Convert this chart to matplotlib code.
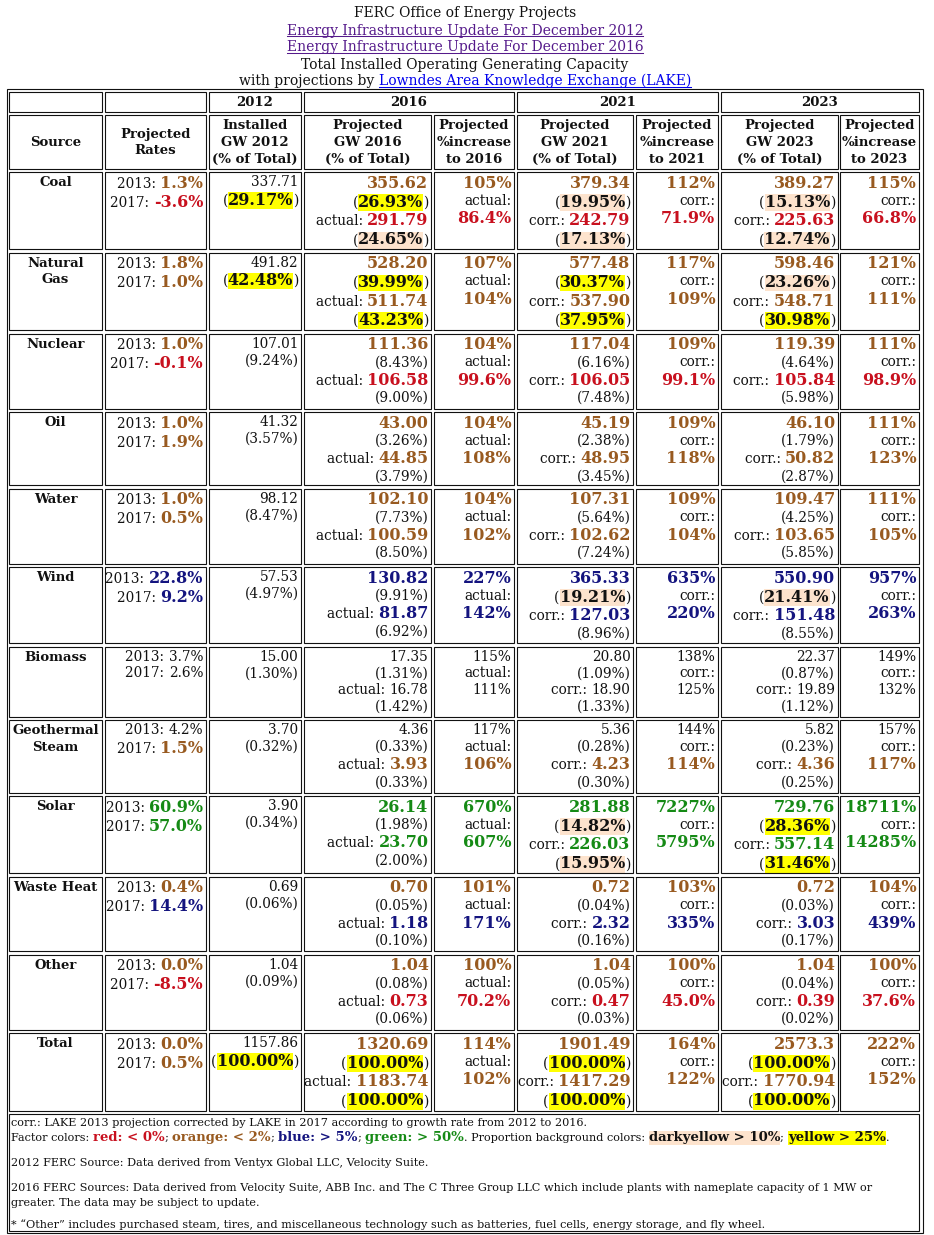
import matplotlib
matplotlib.use("Agg")
import matplotlib.pyplot as plt
from matplotlib.patches import Rectangle
from matplotlib.font_manager import FontProperties

# ---------------- data (read from the FERC / LAKE table) ----------------
sources = ["Coal", "Natural\nGas", "Nuclear", "Oil", "Water", "Wind", "Biomass",
           "Geothermal\nSteam", "Solar", "Waste Heat", "Other", "Total"]

rate_2013 = [1.3, 1.8, 1.0, 1.0, 1.0, 22.8, 3.7, 4.2, 60.9, 0.4, 0.0, 0.0]
rate_2017 = [-3.6, 1.0, -0.1, 1.9, 0.5, 9.2, 2.6, 1.5, 57.0, 14.4, -8.5, 0.5]

gw_2012 = ["337.71", "491.82", "107.01", "41.32", "98.12", "57.53", "15.00",
           "3.70", "3.90", "0.69", "1.04", "1157.86"]
pct_2012 = [29.17, 42.48, 9.24, 3.57, 8.47, 4.97, 1.30, 0.32, 0.34, 0.06, 0.09, 100.00]

proj_2016 = ["355.62", "528.20", "111.36", "43.00", "102.10", "130.82", "17.35",
             "4.36", "26.14", "0.70", "1.04", "1320.69"]
proj_2016_pct = [26.93, 39.99, 8.43, 3.26, 7.73, 9.91, 1.31, 0.33, 1.98, 0.05, 0.08, 100.00]
actual_2016 = ["291.79", "511.74", "106.58", "44.85", "100.59", "81.87", "16.78",
               "3.93", "23.70", "1.18", "0.73", "1183.74"]
actual_2016_pct = [24.65, 43.23, 9.00, 3.79, 8.50, 6.92, 1.42, 0.33, 2.00, 0.10, 0.06, 100.00]
inc_2016 = [105, 107, 104, 104, 104, 227, 115, 117, 670, 101, 100, 114]
actual_inc_2016 = [86.4, 104, 99.6, 108, 102, 142, 111, 106, 607, 171, 70.2, 102]

proj_2021 = ["379.34", "577.48", "117.04", "45.19", "107.31", "365.33", "20.80",
             "5.36", "281.88", "0.72", "1.04", "1901.49"]
proj_2021_pct = [19.95, 30.37, 6.16, 2.38, 5.64, 19.21, 1.09, 0.28, 14.82, 0.04, 0.05, 100.00]
corr_2021 = ["242.79", "537.90", "106.05", "48.95", "102.62", "127.03", "18.90",
             "4.23", "226.03", "2.32", "0.47", "1417.29"]
corr_2021_pct = [17.13, 37.95, 7.48, 3.45, 7.24, 8.96, 1.33, 0.30, 15.95, 0.16, 0.03, 100.00]
inc_2021 = [112, 117, 109, 109, 109, 635, 138, 144, 7227, 103, 100, 164]
corr_inc_2021 = [71.9, 109, 99.1, 118, 104, 220, 125, 114, 5795, 335, 45.0, 122]

proj_2023 = ["389.27", "598.46", "119.39", "46.10", "109.47", "550.90", "22.37",
             "5.82", "729.76", "0.72", "1.04", "2573.3"]
proj_2023_pct = [15.13, 23.26, 4.64, 1.79, 4.25, 21.41, 0.87, 0.23, 28.36, 0.03, 0.04, 100.00]
corr_2023 = ["225.63", "548.71", "105.84", "50.82", "103.65", "151.48", "19.89",
             "4.36", "557.14", "3.03", "0.39", "1770.94"]
corr_2023_pct = [12.74, 30.98, 5.98, 2.87, 5.85, 8.55, 1.12, 0.25, 31.46, 0.17, 0.02, 100.00]
inc_2023 = [115, 121, 111, 111, 111, 957, 149, 157, 18711, 104, 100, 222]
corr_inc_2023 = [66.8, 111, 98.9, 123, 105, 263, 132, 117, 14285, 439, 37.6, 152]

years = ["2012", "2016", "2021", "2023"]
col_headers = ["Source", "Projected\nRates", "Installed\nGW 2012\n(% of Total)",
               "Projected\nGW 2016\n(% of Total)", "Projected\n%increase\nto 2016",
               "Projected\nGW 2021\n(% of Total)", "Projected\n%increase\nto 2021",
               "Projected\nGW 2023\n(% of Total)", "Projected\n%increase\nto 2023"]

title_lines = ["FERC Office of Energy Projects",
               "Energy Infrastructure Update For December 2012",
               "Energy Infrastructure Update For December 2016",
               "Total Installed Operating Generating Capacity"]
title_by = "with projections by "
title_link = "Lowndes Area Knowledge Exchange (LAKE)"

note_corr = "corr.: LAKE 2013 projection corrected by LAKE in 2017 according to growth rate from 2012 to 2016."
note_2012 = "2012 FERC Source: Data derived from Ventyx Global LLC, Velocity Suite."
note_2016 = ["2016 FERC Sources: Data derived from Velocity Suite, ABB Inc. and The C Three Group LLC which include plants with nameplate capacity of 1 MW or",
             "greater. The data may be subject to update."]
note_other = "* \u201cOther\u201d includes purchased steam, tires, and miscellaneous technology such as batteries, fuel cells, energy storage, and fly wheel."

# ---------------- style ----------------
BLACK = "#111111"
RED = "#c8101e"
ORANGE = "#985a20"
BLUE = "#14147f"
GREEN = "#158a15"
PEACH = "#fde3cd"
YELLOW = "#ffff00"
PURPLE = "#551a8b"
LINK = "#0000ee"
FAMILY = "DejaVu Serif"

PT = 0.72          # px -> pt at dpi 100
SMALL = 13.6
HEAD = 13.2
BIG = 16.0
FOOT = 11.2
FOOTB = 13.3
TITLE = 13.9

W, H = 934, 1235
fig = plt.figure(figsize=(W / 100, H / 100), dpi=100)
ax = fig.add_axes([0, 0, 1, 1])
ax.set_xlim(0, W)
ax.set_ylim(H, 0)
ax.axis("off")
rend = fig.canvas.get_renderer()

_cache = {}


def adv(s, size, bold):
    # advance width in px (keeps trailing spaces)
    key = (s, size, bold)
    if key not in _cache:
        fp = FontProperties(family=FAMILY, size=size * PT, weight="bold" if bold else "normal")
        w1 = rend.get_text_width_height_descent("|" + s + "|", fp, ismath=False)[0]
        w0 = rend.get_text_width_height_descent("||", fp, ismath=False)[0]
        _cache[key] = w1 - w0
    return _cache[key]


def R(text, size=SMALL, bold=False, color=BLACK, bg=None, ul=False):
    return (text, size, bold, color, bg, ul)


def draw_line(runs, x, y, align="left"):
    total = sum(adv(r[0], r[1], r[2]) for r in runs)
    if align == "right":
        x -= total
    elif align == "center":
        x -= total / 2
    for text, size, bold, color, bg, ul in runs:
        w = adv(text, size, bold)
        if bg:
            ax.add_patch(Rectangle((x, y - 0.78 * size), w, 1.05 * size,
                                   facecolor=bg, edgecolor="none", zorder=1))
        ax.text(x, y, text, fontsize=size * PT, fontweight="bold" if bold else "normal",
                color=color, family=FAMILY, ha="left", va="baseline", zorder=3)
        if ul:
            ax.plot([x, x + w], [y + 1.8, y + 1.8], color=color, lw=0.75, zorder=3)
        x += w


def metrics(line):
    if any(r[1] == BIG for r in line):
        return 14.3, 4.5
    return 12.6, 4.2


# table geometry (px)
col_left = [9, 105, 209, 304.3, 434.3, 517, 636.3, 721, 840.3]
col_right = [102, 205.7, 301, 431, 513.7, 633, 717.7, 837.7, 918.7]
row_top = [92, 115, 172, 252.5, 333.5, 412, 488.5, 567, 646.5, 720, 796, 876.5, 954.5, 1033, 1114]
row_bot = [t - 3.3 for t in row_top[1:]] + [1230.7]


def box(x0, x1, y0, y1):
    ax.add_patch(Rectangle((x0, y0), x1 - x0, y1 - y0, facecolor="none",
                           edgecolor=BLACK, lw=0.8, zorder=2))


def draw_cell(lines, x0, x1, y0, y1, align="right", valign="top"):
    box(x0, x1, y0, y1)
    if align == "right":
        x = x1 - 2.5
    elif align == "center":
        x = (x0 + x1) / 2
    else:
        x = x0 + 2.5
    if valign == "top":
        y = y0 + 1.5
    else:
        tot = sum(sum(metrics(l)) for l in lines)
        y = (y0 + y1) / 2 - tot / 2
    for line in lines:
        a, d = metrics(line)
        y += a
        draw_line(line, x, y, align)
        y += d


def rate_color(r):
    if r < 0:
        return RED
    if r < 2:
        return ORANGE
    if r > 50:
        return GREEN
    if r > 5:
        return BLUE
    return None


def rated(text, r):
    c = rate_color(r)
    if c is None:
        return R(text)
    return R(text, BIG, True, c)


def share(p):
    s = f"{p:.2f}%"
    if p > 25:
        return [R("("), R(s, BIG, True, BLACK, YELLOW), R(")")]
    if p > 10:
        return [R("("), R(s, BIG, True, BLACK, PEACH), R(")")]
    return [R(f"({s})")]


def incfmt(v):
    return f"{v:.1f}%" if v < 100 else f"{v:.0f}%"


# ---------------- title ----------------
cx = 465
for i, t in enumerate(title_lines):
    color = PURPLE if i in (1, 2) else BLACK
    draw_line([R(t, TITLE, color=color, ul=(i in (1, 2)))], cx, 17.5 + 17 * i, "center")
draw_line([R(title_by, TITLE), R(title_link, TITLE, color=LINK, ul=True)], cx, 17.5 + 17 * 4, "center")

# outer border
ax.add_patch(Rectangle((6.7, 89), 922.5 - 6.7, 1233 - 89, facecolor="none",
                       edgecolor=BLACK, lw=0.8, zorder=2))

# ---------------- header rows ----------------
draw_cell([], col_left[0], col_right[0], row_top[0], row_bot[0])
draw_cell([], col_left[1], col_right[1], row_top[0], row_bot[0])
spans = [(2, 2), (3, 4), (5, 6), (7, 8)]
for yr, (a, b) in zip(years, spans):
    draw_cell([[R(yr, HEAD, bold=True)]], col_left[a], col_right[b], row_top[0], row_bot[0],
              "center", "middle")
for c, h in enumerate(col_headers):
    lines = [[R(part, HEAD, bold=True)] for part in h.split("\n")]
    draw_cell(lines, col_left[c], col_right[c], row_top[1], row_bot[1], "center", "middle")

# ---------------- body rows ----------------
blocks = [
    (proj_2016, proj_2016_pct, actual_2016, actual_2016_pct, inc_2016, actual_inc_2016, "actual:"),
    (proj_2021, proj_2021_pct, corr_2021, corr_2021_pct, inc_2021, corr_inc_2021, "corr.:"),
    (proj_2023, proj_2023_pct, corr_2023, corr_2023_pct, inc_2023, corr_inc_2023, "corr.:"),
]

for i, name in enumerate(sources):
    y0, y1 = row_top[i + 2], row_bot[i + 2]
    r13, r17 = rate_2013[i], rate_2017[i]

    draw_cell([[R(p, HEAD, bold=True)] for p in name.split("\n")],
              col_left[0], col_right[0], y0, y1, "center")

    rates = [[R("2013: "), rated(f"{r13:.1f}%", r13)],
             [R("2017: "), rated(f"{r17:.1f}%", r17)]]
    draw_cell(rates, col_left[1], col_right[1], y0, y1)

    draw_cell([[R(gw_2012[i])], share(pct_2012[i])], col_left[2], col_right[2], y0, y1)

    for k, (pv, pp, av, ap, inc, ainc, lab) in enumerate(blocks):
        cg = 3 + 2 * k
        gw_lines = [[rated(pv[i], r13)],
                    share(pp[i]),
                    [R(lab + " "), rated(av[i], r17)],
                    share(ap[i])]
        draw_cell(gw_lines, col_left[cg], col_right[cg], y0, y1)
        inc_lines = [[rated(incfmt(inc[i]), r13)],
                     [R(lab)],
                     [rated(incfmt(ainc[i]), r17)]]
        draw_cell(inc_lines, col_left[cg + 1], col_right[cg + 1], y0, y1)

# ---------------- footer ----------------
box(col_left[0], col_right[8], row_top[14], row_bot[14])
fx = 11
draw_line([R(note_corr, FOOT)], fx, 1126)
draw_line([R("Factor colors: ", FOOT),
           R("red: < 0%", FOOTB, True, RED), R("; ", FOOT),
           R("orange: < 2%", FOOTB, True, ORANGE), R("; ", FOOT),
           R("blue: > 5%", FOOTB, True, BLUE), R("; ", FOOT),
           R("green: > 50%", FOOTB, True, GREEN),
           R(". Proportion background colors: ", FOOT),
           R("darkyellow > 10%", FOOTB, True, BLACK, PEACH), R("; ", FOOT),
           R("yellow > 25%", FOOTB, True, BLACK, YELLOW), R(".", FOOT)], fx, 1141)
draw_line([R(note_2012, FOOT)], fx, 1166)
draw_line([R(note_2016[0], FOOT)], fx, 1191)
draw_line([R(note_2016[1], FOOT)], fx, 1206)
draw_line([R(note_other, FOOT)], fx, 1228)

fig.savefig("out.png", dpi=100)
